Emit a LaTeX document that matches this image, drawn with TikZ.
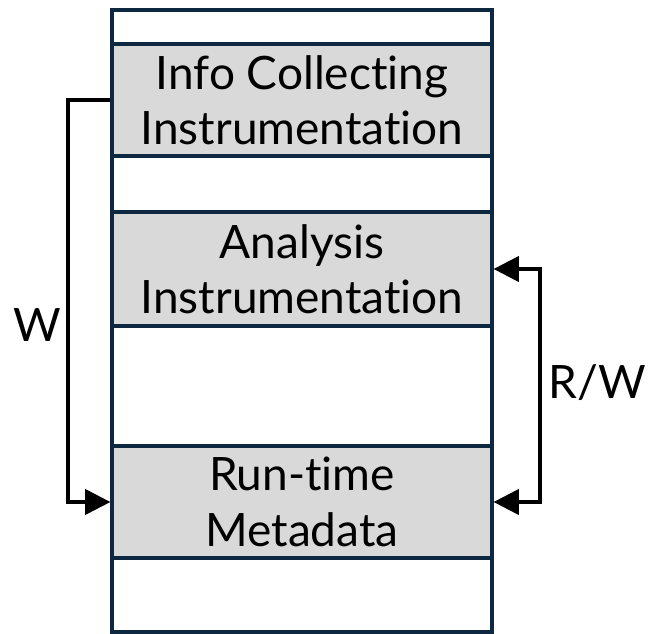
\documentclass[tikz,border=0pt]{standalone}
\usepackage{fontspec}
\setmainfont[Ligatures={NoCommon}]{Lato}
\usetikzlibrary{arrows.meta}
\definecolor{navy}{HTML}{0E2841}
\definecolor{bandgray}{HTML}{D9D9D9}
\begin{document}
\begin{tikzpicture}[x=0.75pt,y=-0.75pt,
  >={Triangle[length=19pt,width=19pt]},
  band/.style={draw=navy,line width=2.4pt,minimum width=380*0.75pt,inner sep=0pt,
    align=center,font=\fontsize{34.5}{41.5}\selectfont},
  blank/.style={band,fill=white},
  shaded/.style={band,fill=bandgray},
  link/.style={draw=black,line width=2.3pt},
  lbl/.style={font=\fontsize{34.5}{41.5}\selectfont}]
\useasboundingbox (0,0) rectangle (649,634);
% memory layout bands, top to bottom
\node[blank,minimum height=34*0.75pt] (top) at (302,27) {};
\node[shaded,minimum height=112*0.75pt] (info) at (302,100) {Info Collecting\\Instrumentation};
\node[blank,minimum height=56*0.75pt] (gapA) at (302,184) {};
\node[shaded,minimum height=114*0.75pt] (analysis) at (302,269) {Analysis\\Instrumentation};
\node[blank,minimum height=120*0.75pt] (gapB) at (302,386) {};
\node[shaded,minimum height=112*0.75pt] (runtime) at (302,502) {Run-time\\Metadata};
\node[blank,minimum height=74*0.75pt] (bottom) at (302,595) {};
% access paths
\coordinate (wturn) at (68,100);
\coordinate (rwturn) at (540,269);
\draw[link,->] (info.west) -- (wturn) |- (runtime.west);
\draw[link,<->] (runtime.east) -| (rwturn) -- (analysis.east);
\node[lbl] (wlabel) at (37,325) {W};
\node[lbl] (rwlabel) at (597,383) {R/W};
\end{tikzpicture}
\end{document}
